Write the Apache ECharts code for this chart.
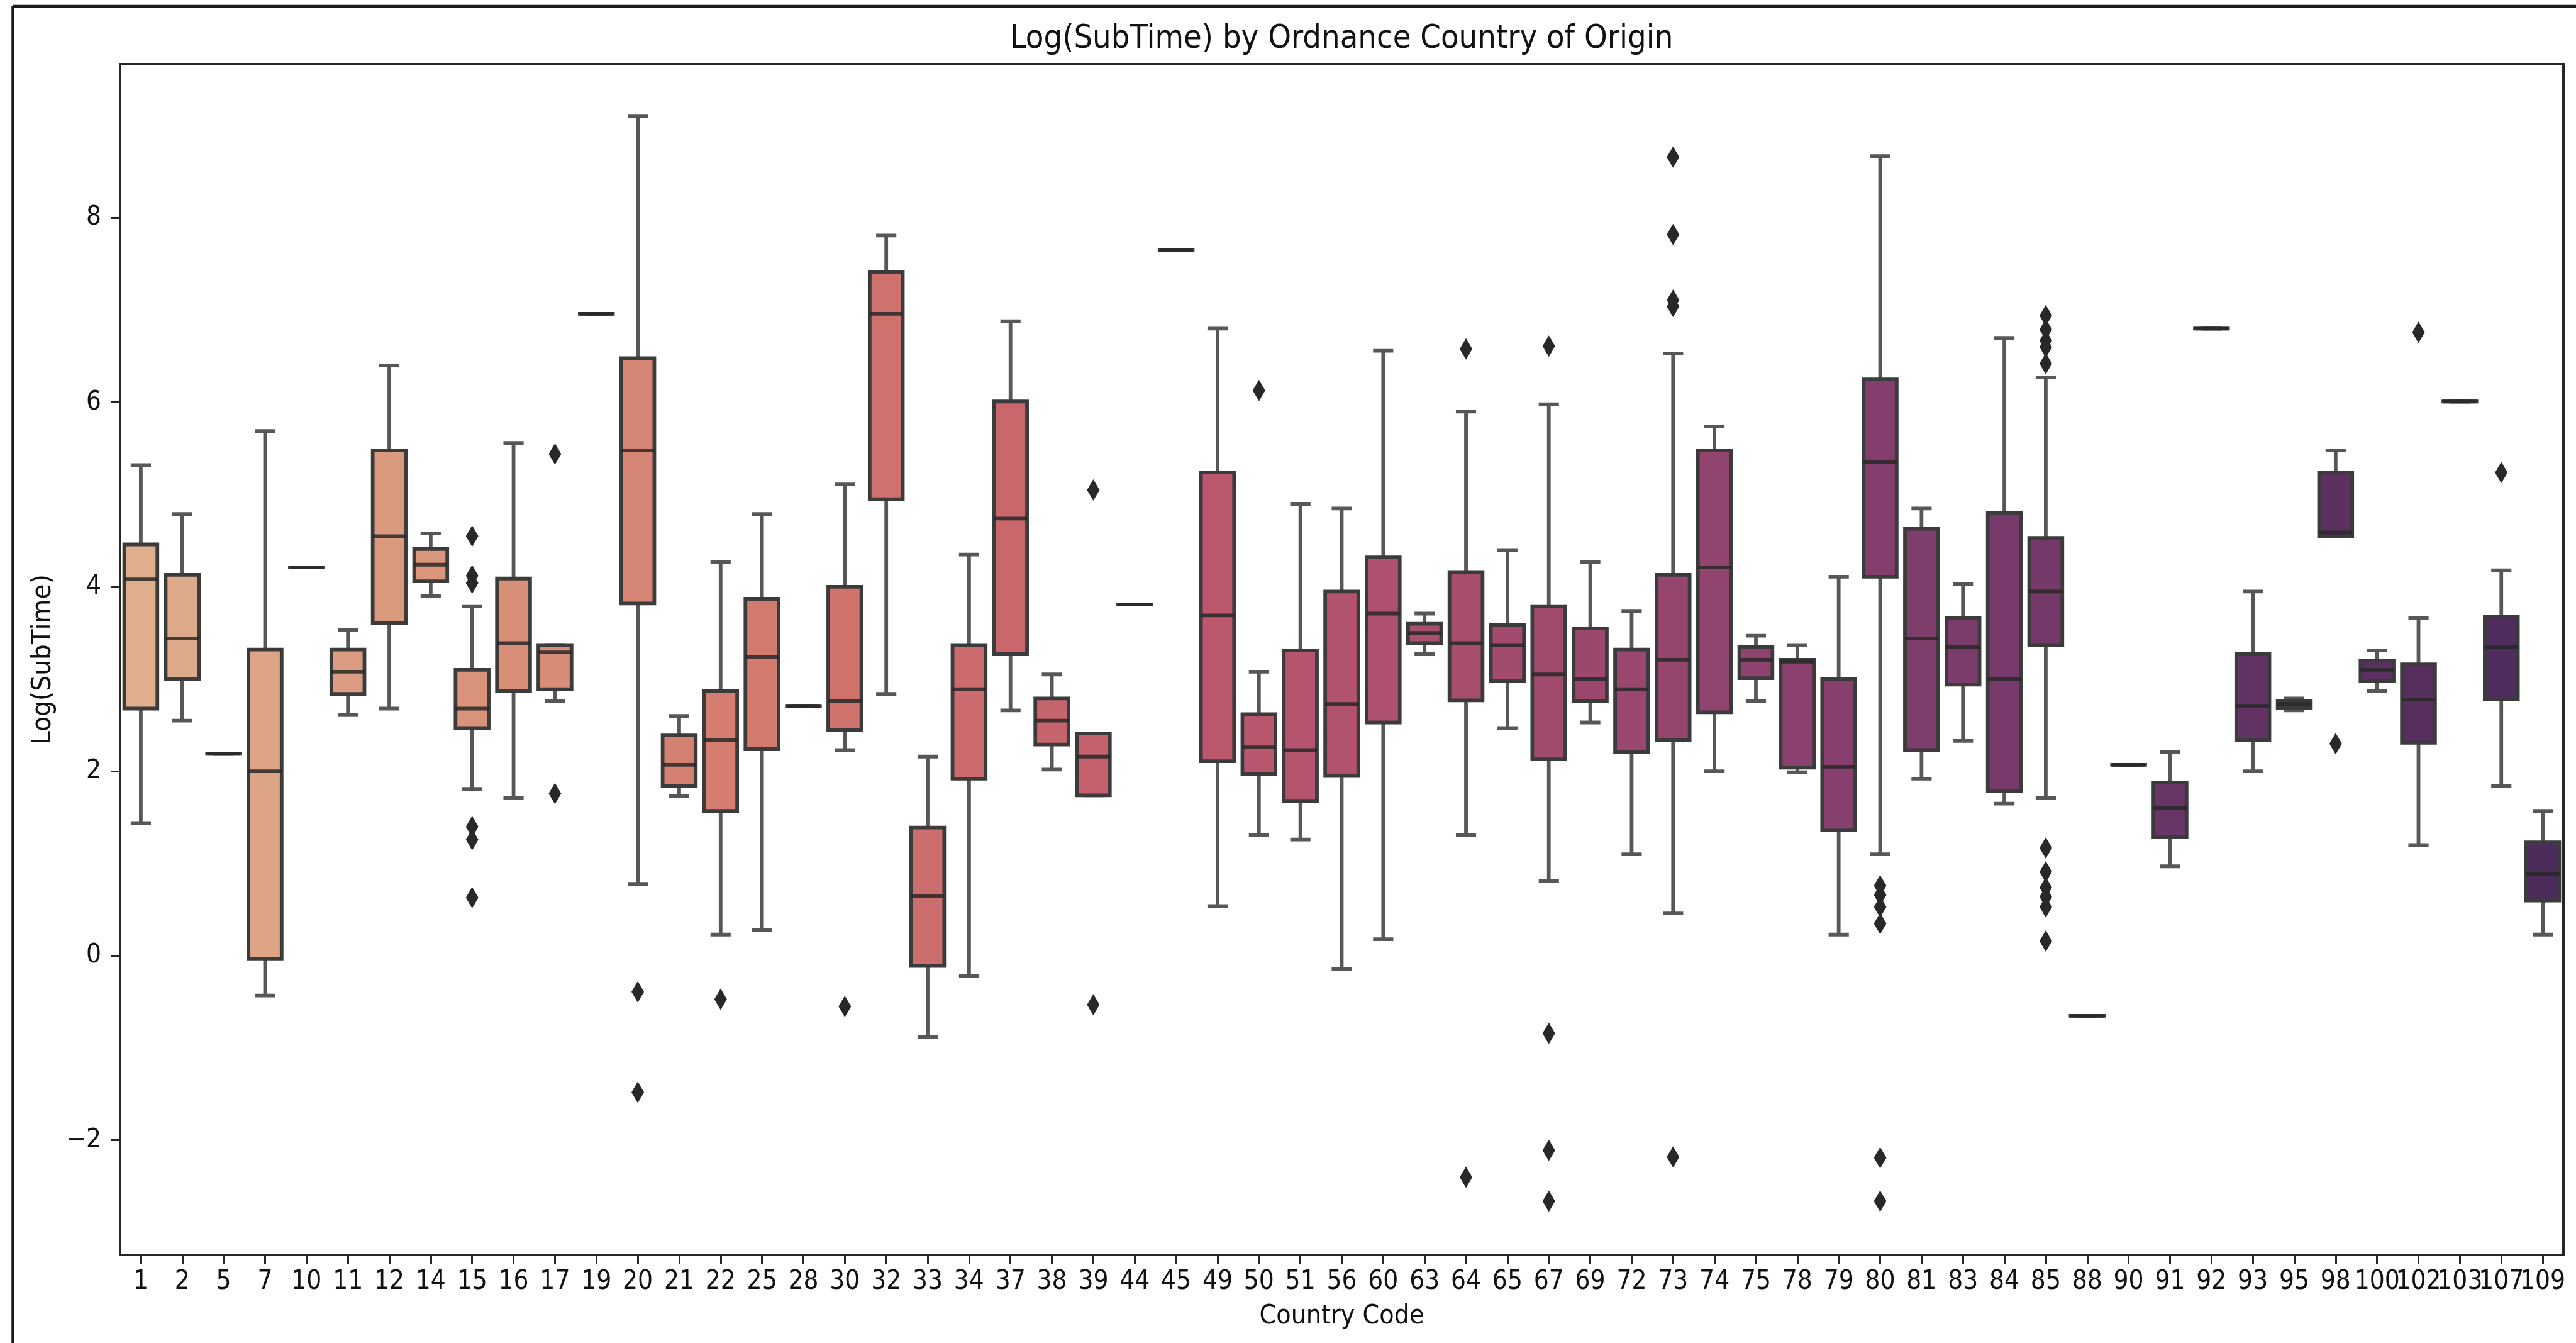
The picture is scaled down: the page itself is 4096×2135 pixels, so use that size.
<!DOCTYPE html>
<html>
<head>
<meta charset="utf-8">
<title>Log(SubTime) by Ordnance Country of Origin</title>
<script src="https://cdn.jsdelivr.net/npm/echarts@6/dist/echarts.min.js"></script>
<style>
  html, body { margin: 0; padding: 0; background: #ffffff; }
  #chart { width: 4096px; height: 2135px; }
</style>
</head>
<body>
<div id="chart"></div>
<script>
// Country codes along the x axis
const countryCodes = ['1','2','5','7','10','11','12','14','15','16','17','19','20','21','22','25','28','30',
  '32','33','34','37','38','39','44','45','49','50','51','56','60','63','64','65','67','69','72','73','74',
  '75','78','79','80','81','83','84','85','88','90','91','92','93','95','98','100','102','103','107','109'];

// Box statistics of Log(SubTime) per country (same order as countryCodes)
const lowerWhisker = [1.44, 2.55, 2.19, -0.43, 4.21, 2.61, 2.68, 3.90, 1.81, 1.71, 2.76, 6.96, 0.78, 1.73, 0.23, 0.28, 2.71, 2.23,
  2.84, -0.88, -0.22, 2.66, 2.02, 1.74, 3.81, 7.65, 0.54, 1.31, 1.26, -0.14, 0.18, 3.27, 1.31, 2.47, 0.81, 2.53, 1.10, 0.46, 2.00,
  2.76, 1.99, 0.23, 1.10, 1.92, 2.33, 1.65, 1.71, -0.65, 2.07, 0.97, 6.80, 2.00, 2.66, 4.55, 2.87, 1.20, 6.01, 1.84, 0.23];
const firstQuartile = [2.68, 3.00, 2.19, -0.03, 4.21, 2.84, 3.61, 4.06, 2.47, 2.87, 2.89, 6.96, 3.82, 1.84, 1.57, 2.24, 2.71, 2.45,
  4.95, -0.11, 1.92, 3.27, 2.29, 1.74, 3.81, 7.65, 2.11, 1.97, 1.68, 1.95, 2.53, 3.39, 2.77, 2.98, 2.13, 2.76, 2.21, 2.34, 2.64,
  3.01, 2.04, 1.36, 4.11, 2.23, 2.94, 1.79, 3.37, -0.65, 2.07, 1.29, 6.80, 2.34, 2.69, 4.55, 2.98, 2.31, 6.01, 2.78, 0.60];
const medians = [4.08, 3.44, 2.19, 2.00, 4.21, 3.08, 4.55, 4.24, 2.68, 3.39, 3.29, 6.96, 5.48, 2.07, 2.34, 3.24, 2.71, 2.76,
  6.96, 0.65, 2.89, 4.74, 2.55, 2.16, 3.81, 7.65, 3.69, 2.26, 2.23, 2.73, 3.71, 3.50, 3.39, 3.37, 3.05, 3.00, 2.89, 3.21, 4.21,
  3.21, 3.19, 2.05, 5.35, 3.44, 3.35, 3.00, 3.95, -0.65, 2.07, 1.60, 6.80, 2.71, 2.73, 4.59, 3.10, 2.78, 6.01, 3.35, 0.89];
const thirdQuartile = [4.46, 4.13, 2.19, 3.32, 4.21, 3.32, 5.48, 4.41, 3.10, 4.09, 3.37, 6.96, 6.48, 2.39, 2.87, 3.87, 2.71, 4.00,
  7.41, 1.39, 3.37, 6.01, 2.79, 2.41, 3.81, 7.65, 5.24, 2.62, 3.31, 3.95, 4.32, 3.60, 4.16, 3.59, 3.79, 3.55, 3.32, 4.13, 5.48,
  3.35, 3.21, 3.00, 6.25, 4.63, 3.66, 4.80, 4.53, -0.65, 2.07, 1.88, 6.80, 3.27, 2.76, 5.24, 3.20, 3.16, 6.01, 3.68, 1.23];
const upperWhisker = [5.32, 4.79, 2.19, 5.69, 4.21, 3.53, 6.40, 4.58, 3.79, 5.56, 3.37, 6.96, 9.10, 2.60, 4.27, 4.79, 2.71, 5.11,
  7.81, 2.16, 4.35, 6.88, 3.05, 2.41, 3.81, 7.65, 6.80, 3.08, 4.90, 4.85, 6.56, 3.71, 5.90, 4.40, 5.98, 4.27, 3.74, 6.53, 5.74,
  3.47, 3.37, 4.11, 8.67, 4.85, 4.03, 6.70, 6.27, -0.65, 2.07, 2.21, 6.80, 3.95, 2.79, 5.48, 3.31, 3.66, 6.01, 4.18, 1.57];

// Outlying observations: [country code, Log(SubTime)]
const outliers = [
  ['15', 4.55], ['15', 4.12], ['15', 4.04], ['15', 1.40], ['15', 1.26], ['15', 0.63],
  ['17', 5.44], ['17', 1.76],
  ['20', -0.39], ['20', -1.48],
  ['22', -0.47],
  ['30', -0.55],
  ['39', 5.05], ['39', -0.53],
  ['50', 6.13],
  ['64', 6.58], ['64', -2.40],
  ['67', 6.61], ['67', -0.84], ['67', -2.11], ['67', -2.66],
  ['73', 8.66], ['73', 7.82], ['73', 7.11], ['73', 7.04], ['73', -2.18],
  ['80', 0.76], ['80', 0.66], ['80', 0.53], ['80', 0.35], ['80', -2.19], ['80', -2.66],
  ['85', 6.94], ['85', 6.79], ['85', 6.67], ['85', 6.60], ['85', 6.42],
  ['85', 1.17], ['85', 0.91], ['85', 0.74], ['85', 0.64], ['85', 0.53], ['85', 0.16],
  ['98', 2.30],
  ['102', 6.76],
  ['107', 5.24]
];

// Y axis range and tick marks
const yMin = -3.243;
const yMax = 9.667;
const yTicks = [-2, 0, 2, 4, 6, 8];

// Colour ramp (orange -> purple), then softened in HLS like a boxplot fill
const rampStops = ['#edb081', '#e98d6b', '#e3685c', '#d14a61', '#b13c6c', '#8f3371', '#6c2b6d', '#4b2362'];

function hexToRgb(h) {
  return [parseInt(h.slice(1, 3), 16) / 255, parseInt(h.slice(3, 5), 16) / 255, parseInt(h.slice(5, 7), 16) / 255];
}
function rampAt(t) {
  const pos = t * (rampStops.length - 1);
  const k = Math.min(Math.floor(pos), rampStops.length - 2);
  const f = pos - k;
  const a = hexToRgb(rampStops[k]), b = hexToRgb(rampStops[k + 1]);
  return [0, 1, 2].map(j => a[j] + (b[j] - a[j]) * f);
}
function rgbToHls(r, g, b) {
  const mx = Math.max(r, g, b), mn = Math.min(r, g, b);
  const l = (mx + mn) / 2;
  if (mx === mn) return [0, l, 0];
  const d = mx - mn;
  const s = l <= 0.5 ? d / (mx + mn) : d / (2 - mx - mn);
  let h;
  if (mx === r) h = ((g - b) / d) % 6;
  else if (mx === g) h = (b - r) / d + 2;
  else h = (r - g) / d + 4;
  h /= 6; if (h < 0) h += 1;
  return [h, l, s];
}
function hlsToRgb(h, l, s) {
  if (s === 0) return [l, l, l];
  const q = l < 0.5 ? l * (1 + s) : l + s - l * s;
  const p = 2 * l - q;
  const hue = (t) => {
    if (t < 0) t += 1; if (t > 1) t -= 1;
    if (t < 1 / 6) return p + (q - p) * 6 * t;
    if (t < 1 / 2) return q;
    if (t < 2 / 3) return p + (q - p) * (2 / 3 - t) * 6;
    return p;
  };
  return [hue(h + 1 / 3), hue(h), hue(h - 1 / 3)];
}
function toHex(rgb) {
  return '#' + rgb.map(v => Math.round(Math.max(0, Math.min(1, v)) * 255).toString(16).padStart(2, '0')).join('');
}
const nBoxes = countryCodes.length;
const boxColors = countryCodes.map((c, i) => {
  const rgb = rampAt((i + 1) / (nBoxes + 1));
  const hls = rgbToHls(rgb[0], rgb[1], rgb[2]);
  return toHex(hlsToRgb(hls[0], hls[1], hls[2] * 0.75));
});

const boxData = countryCodes.map((c, i) => [i, lowerWhisker[i], firstQuartile[i], medians[i], thirdQuartile[i], upperWhisker[i]]);
const outlierData = outliers.map(o => [countryCodes.indexOf(o[0]), o[1]]);

const FONT = "'DejaVu Sans Condensed', 'DejaVu Sans', sans-serif";
const TEXT = '#111111';
const LW = 5.8;

function renderBox(params, api) {
  const idx = api.value(0);
  const x = api.coord([idx, 0])[0];
  const band = api.size([1, 0])[0];
  const half = band * 0.4;
  const capHalf = half * 0.5;
  const yLo = api.coord([idx, api.value(1)])[1];
  const yQ1 = api.coord([idx, api.value(2)])[1];
  const yMed = api.coord([idx, api.value(3)])[1];
  const yQ3 = api.coord([idx, api.value(4)])[1];
  const yHi = api.coord([idx, api.value(5)])[1];
  const whiskerStyle = { stroke: '#575757', lineWidth: LW, lineCap: 'butt' };
  const capStyle = { stroke: '#575757', lineWidth: LW, lineCap: 'square' };
  return {
    type: 'group',
    children: [
      { type: 'line', shape: { x1: x, y1: yQ1, x2: x, y2: yLo }, style: whiskerStyle },
      { type: 'line', shape: { x1: x, y1: yQ3, x2: x, y2: yHi }, style: whiskerStyle },
      { type: 'line', shape: { x1: x - capHalf, y1: yLo, x2: x + capHalf, y2: yLo }, style: capStyle },
      { type: 'line', shape: { x1: x - capHalf, y1: yHi, x2: x + capHalf, y2: yHi }, style: capStyle },
      { type: 'rect', shape: { x: x - half, y: yQ3, width: half * 2, height: Math.max(yQ1 - yQ3, 0.01) },
        style: { fill: boxColors[params.dataIndex], stroke: '#3b3b3b', lineWidth: LW } },
      { type: 'line', shape: { x1: x - half, y1: yMed, x2: x + half, y2: yMed },
        style: { stroke: 'rgba(40,40,40,0.85)', lineWidth: LW, lineCap: 'butt' } }
    ]
  };
}

const chart = echarts.init(document.getElementById('chart'), null, { renderer: 'canvas', width: 4096, height: 2135 });

chart.setOption({
  animation: false,
  backgroundColor: '#ffffff',
  title: {
    text: 'Log(SubTime) by Ordnance Country of Origin',
    left: 2133,
    top: 36,
    textAlign: 'center',
    padding: 0,
    textStyle: { fontFamily: FONT, fontSize: 52, fontWeight: 'normal', color: TEXT }
  },
  grid: {
    left: 191, top: 102, right: 20, bottom: 140,
    show: true, borderColor: '#262626', borderWidth: 4, backgroundColor: '#ffffff',
    containLabel: false, outerBoundsMode: 'none'
  },
  xAxis: {
    type: 'category',
    data: countryCodes,
    boundaryGap: true,
    name: 'Country Code',
    nameLocation: 'middle',
    nameGap: 76,
    nameTextStyle: { fontFamily: FONT, fontSize: 42.5, color: TEXT, verticalAlign: 'top' },
    axisLine: { show: false, onZero: false },
    axisTick: { show: true, alignWithLabel: true, length: 14, lineStyle: { color: '#262626', width: 3 } },
    axisLabel: { interval: 0, margin: 22, fontFamily: FONT, fontSize: 42, color: TEXT, hideOverlap: false },
    splitLine: { show: false }
  },
  yAxis: {
    type: 'value',
    min: yMin,
    max: yMax,
    name: 'Log(SubTime)',
    nameLocation: 'middle',
    nameRotate: 90,
    nameGap: 100,
    nameTextStyle: { fontFamily: FONT, fontSize: 43.5, color: TEXT },
    axisLine: { show: false, onZero: false },
    axisTick: { show: true, length: 14, customValues: yTicks, lineStyle: { color: '#262626', width: 3 } },
    axisLabel: {
      margin: 30, fontFamily: FONT, fontSize: 42, color: TEXT,
      customValues: yTicks,
      formatter: (v) => String(v).replace('-', '\u2212')
    },
    splitLine: { show: false }
  },
  graphic: [
    { type: 'line', shape: { x1: 20.5, y1: 10, x2: 20.5, y2: 2135 }, style: { stroke: '#1a1a1a', lineWidth: 4.5 }, silent: true },
    { type: 'line', shape: { x1: 20.5, y1: 10, x2: 4096, y2: 10 }, style: { stroke: '#1a1a1a', lineWidth: 4.5 }, silent: true }
  ],
  series: [
    {
      name: 'box',
      type: 'custom',
      renderItem: renderBox,
      data: boxData,
      encode: { x: 0, y: [1, 2, 3, 4, 5] },
      z: 2
    },
    {
      name: 'outliers',
      type: 'scatter',
      data: outlierData,
      symbol: 'diamond',
      symbolSize: [20, 34],
      itemStyle: { color: '#282828', opacity: 1 },
      z: 3
    }
  ]
});
</script>
</body>
</html>
